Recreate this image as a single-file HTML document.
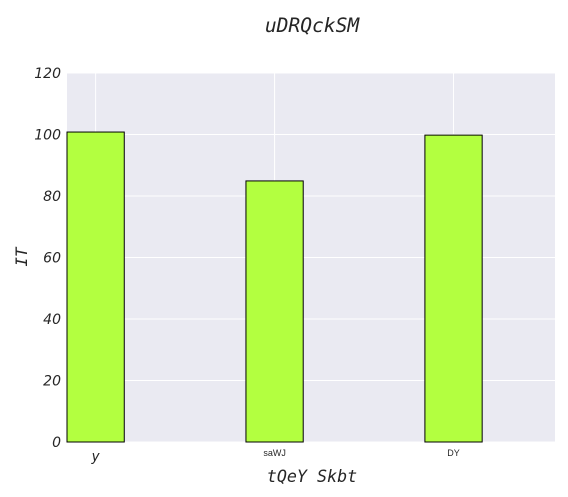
<!DOCTYPE html>
<html><head><meta charset="utf-8"><style>
body{margin:0;background:#fff;}
svg{display:block;}
</style></head><body>
<svg id="chart" width="568" height="497" xmlns="http://www.w3.org/2000/svg">
<rect x="67" y="73" width="488" height="369" fill="#eaeaf2"/>
<g id="grid"></g>
<g id="bars"></g>
<g id="labels"></g>
<text x="312" y="32" text-anchor="middle" font-family="DejaVu Sans Mono, monospace" font-style="italic" font-size="19.6" fill="#262626">uDRQckSM</text>
<text x="312" y="482" text-anchor="middle" font-family="DejaVu Sans Mono, monospace" font-style="italic" font-size="16.7" fill="#262626">tQeY Skbt</text>
<text transform="translate(27,257) rotate(-90)" text-anchor="middle" font-family="DejaVu Sans Mono, monospace" font-style="italic" font-size="16" fill="#262626">IT</text>
</svg>
<script>
const categories=["y","saWJ","DY"];
const values=[100.8,84.9,99.8];
const yTicks=[0,20,40,60,80,100,120];
const labelSizes=[14,9,9];
const L=67,R=555,T=73,B=442,xMin=-0.16,xMax=2.567,yMax=120,bw=0.32;
const NS="http://www.w3.org/2000/svg";
const sx=v=>L+(v-xMin)/(xMax-xMin)*(R-L);
const sy=v=>B-v/yMax*(B-T);
function mk(t,a,p){const e=document.createElementNS(NS,t);for(const k in a)e.setAttribute(k,a[k]);document.getElementById(p).appendChild(e);return e;}
yTicks.forEach(t=>{
 const g=mk('line',{x1:L,x2:R,y1:sy(t),y2:sy(t),stroke:'#fff','stroke-width':1},'grid');
 
 
 const tx=mk('text',{x:L-6,y:sy(t)+5,'text-anchor':'end','font-family':'DejaVu Sans, sans-serif','font-style':'italic','font-size':14,fill:'#262626'},'labels');
 tx.textContent=t;
 
 
});
categories.forEach((c,i)=>{
 const gl=mk('line',{x1:sx(i),x2:sx(i),y1:T,y2:B,stroke:'#fff','stroke-width':1},'grid');
 
 
 const x0=sx(i-bw/2),x1=sx(i+bw/2);
 const r=mk('rect',{x:x0,y:sy(values[i]),width:x1-x0,height:B-sy(values[i]),fill:'#b3ff40',stroke:'#000','stroke-width':1},'bars');
 
 
 const big=labelSizes[i]>10;
 const tx=mk('text',{x:sx(i),y:big?461:456,'text-anchor':'middle','font-family':big?'DejaVu Sans Mono, monospace':'Liberation Sans, sans-serif','font-style':big?'italic':'normal','font-size':labelSizes[i],fill:'#262626'},'labels');
 tx.textContent=c;
 
 
});
</script>
</body></html>
